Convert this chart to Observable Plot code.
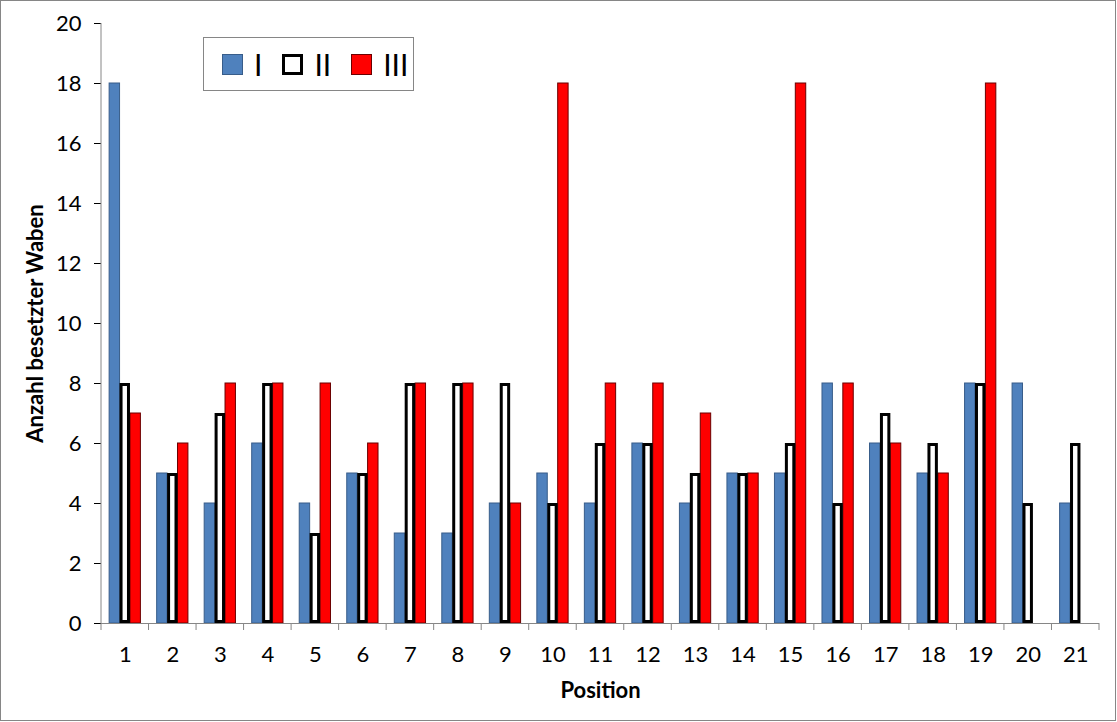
<!DOCTYPE html>
<html>
<head>
<meta charset="utf-8">
<script src="https://cdn.jsdelivr.net/npm/d3@7"></script>
<script src="https://cdn.jsdelivr.net/npm/@observablehq/plot@0.6"></script>
<style>
  body { margin: 0; background: #fff; }
  #wrap { position: relative; width: 1117px; height: 722px; font-family: Lato, "Open Sans", sans-serif; }
  #wrap svg { position: absolute; left: 0; top: 0; }
  #wrap svg text { font-size: 22px; font-family: Lato, "Open Sans", sans-serif; }
  #wrap svg text.axlabel { font-size: 22px; font-weight: bold; }
  #border { position: absolute; left: 0; top: 0; width: 1116px; height: 721px; border: 1px solid #868686; box-sizing: border-box; pointer-events: none; }
  #legend { position: absolute; left: 203px; top: 37px; width: 211px; height: 54px; border: 1px solid #868686; box-sizing: border-box; background: #fff; display: flex; align-items: center; padding-left: 18px; font-size: 30px; color: #000; }
  #legend .item { display: flex; align-items: center; margin-right: 20px; }
  #legend .sw { width: 21px; height: 21px; box-sizing: border-box; margin-right: 11px; }
  #legend .txt { line-height: 1; }
</style>
</head>
<body>
<div id="wrap">
  <div id="legend"></div>
  <div id="border"></div>
</div>
<script>
// ---- data ----
const positions = [1,2,3,4,5,6,7,8,9,10,11,12,13,14,15,16,17,18,19,20,21];
const seriesNames = ["I", "II", "III"];
const valuesI   = [18,5,4,6,4,5,3,3,4,5,4,6,4,5,5,8,6,5,8,8,4];
const valuesII  = [8,5,7,8,3,5,8,8,8,4,6,6,5,5,6,4,7,6,8,4,6];
const valuesIII = [7,6,8,8,8,6,8,8,4,18,8,8,7,5,18,8,6,5,18,null,null];
const yTicks = [0,2,4,6,8,10,12,14,16,18,20];
const yLabel = "Anzahl besetzter Waben";
const xLabel = "Position";

// ---- styles ----
const fills = ["#4F81BD", "#FFFFFF", "#FF0000"];
const strokes = ["#385D8A", "#000000", "#6b0000"];
const strokeWidths = [1, 3, 1];
const insets = [0, 1.5, 0];
const axisGray = "#868686";

const seriesValues = [valuesI, valuesII, valuesIII];
const table = positions.flatMap((p, i) =>
  seriesNames.map((s, j) => ({position: p, series: s, value: seriesValues[j][i]}))
).filter(d => d.value != null);

const drawOrder = [0, 2, 1];

const plot = Plot.plot({
  width: 1117,
  height: 722,
  marginLeft: 101,
  marginRight: 18,
  marginTop: 23,
  marginBottom: 99,
  style: {fontFamily: "Lato, 'Open Sans', sans-serif", fontSize: "22px", color: "#000", background: "transparent", overflow: "visible"},
  fx: {domain: positions, padding: 0, round: false, label: xLabel, labelArrow: "none", labelAnchor: "center", labelOffset: 74, tickSize: 0, tickPadding: 23, axis: "bottom"},
  x: {domain: seriesNames, paddingInner: 0, paddingOuter: 0.78, round: false, axis: null},
  y: {domain: [0, 20], ticks: yTicks, tickSize: 7, tickPadding: 13, label: yLabel, labelArrow: "none", labelAnchor: "center", labelOffset: 74},
  marks: [
    ...drawOrder.map(j => Plot.barY(table, {
      filter: d => d.series === seriesNames[j],
      fx: "position", x: "series", y: "value",
      fill: fills[j], stroke: strokes[j], strokeWidth: strokeWidths[j],
      inset: insets[j]
    })),
    Plot.ruleY([0], {stroke: axisGray, strokeWidth: 1})
  ]
});

document.getElementById("wrap").prepend(plot);

// axis styling, boundary ticks and y-axis line via the library's scales
const svg = d3.select(plot);
svg.selectAll("text").filter(function() {
  const t = this.textContent.replace(/\s*[↑→←↓]\s*/g, "");
  return t === yLabel || t === xLabel;
}).each(function() {
  this.textContent = this.textContent.replace(/\s*[↑→←↓]\s*/g, "");
}).attr("class", "axlabel");
svg.selectAll('g[aria-label="y-axis tick"]').attr("stroke", axisGray);

const fx = plot.scale("fx");
const ys = plot.scale("y");
const y0 = ys.apply(0), yTop = ys.apply(20);
const edges = fx.domain.map(v => fx.apply(v)).concat([fx.apply(fx.domain[fx.domain.length - 1]) + fx.bandwidth]);
const g = svg.append("g").attr("stroke", axisGray).attr("stroke-width", 1);
edges.forEach(xe => {
  g.append("line").attr("x1", xe).attr("x2", xe).attr("y1", y0).attr("y2", y0 + 7);
});
g.append("line").attr("x1", edges[0]).attr("x2", edges[0]).attr("y1", y0).attr("y2", yTop);

// legend
const legend = d3.select("#legend");
seriesNames.forEach((s, j) => {
  const item = legend.append("div").attr("class", "item");
  item.append("div").attr("class", "sw")
    .style("background", fills[j])
    .style("border", `${j === 1 ? 3 : 1}px solid ${strokes[j]}`);
  item.append("span").attr("class", "txt").text(s);
});
</script>
</body>
</html>
